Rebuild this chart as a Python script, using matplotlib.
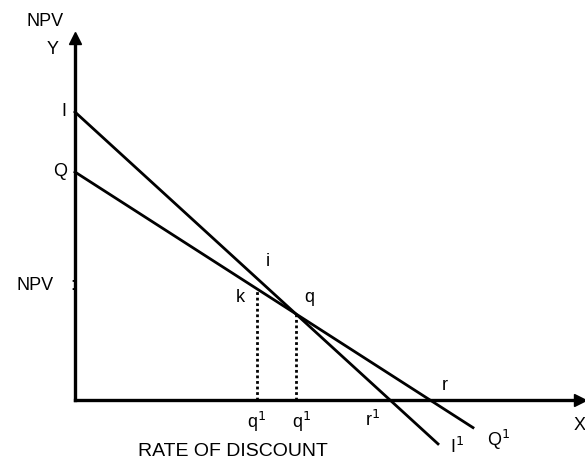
import numpy as np
import matplotlib
matplotlib.use("Agg")
import matplotlib.pyplot as plt

plt.rcParams['font.family'] = ['Liberation Sans', 'DejaVu Sans']

# NPV profiles of two projects: intercept on NPV axis and root on discount-rate axis
intercept_I = 288
root_I = 315
intercept_Q = 228
root_Q = 355
end_I = 363
end_Q = 398
k_rate = 182
x_max = 505
y_max = 362

slope_I = -intercept_I / root_I
slope_Q = -intercept_Q / root_Q
xq = (intercept_Q - intercept_I) / (slope_I - slope_Q)
yq = intercept_I + slope_I * xq
yk = intercept_Q + slope_Q * k_rate

fig = plt.figure(figsize=(5.85, 4.59), dpi=100)
ax = fig.add_axes([0, 0, 1, 1])
ax.set_xlim(-75, 510)
ax.set_ylim(-59, 400)
ax.axis('off')

# axes with arrow heads
ax.plot([0, x_max], [0, 0], color='black', lw=2.4)
ax.plot([0, 0], [0, y_max], color='black', lw=2.4)
ax.plot(x_max, 0, marker='>', color='black', ms=9)
ax.plot(0, y_max, marker='^', color='black', ms=9)

# the two NPV lines
xs = np.array([0, end_I])
ax.plot(xs, intercept_I + slope_I * xs, color='black', lw=2)
xs = np.array([0, end_Q])
ax.plot(xs, intercept_Q + slope_Q * xs, color='black', lw=2)

# dotted drops
ax.plot([k_rate, k_rate], [0, yk], color='black', lw=2, ls=(0, (1, 1)))
ax.plot([xq, xq], [0, yq], color='black', lw=2, ls=(0, (1, 1)))

fs = 13
ax.text(-30, 378, 'NPV', fontsize=fs, ha='center', va='center')
ax.text(-22, 350, 'Y', fontsize=fs, ha='center', va='center')
ax.text(-11, intercept_I, 'I', fontsize=fs, ha='center', va='center')
ax.text(-15, intercept_Q, 'Q', fontsize=fs, ha='center', va='center')
ax.text(-40, 115, 'NPV', fontsize=fs, ha='center', va='center')
ax.text(-2, 115, ':', fontsize=fs, ha='center', va='center')
ax.text(193, 138, 'i', fontsize=fs, ha='center', va='center')
ax.text(165, 103, 'k', fontsize=fs, ha='center', va='center')
ax.text(234, 102, 'q', fontsize=fs, ha='center', va='center')
ax.text(k_rate, -22, 'q$^1$', fontsize=fs, ha='center', va='center')
ax.text(xq + 6, -22, 'q$^1$', fontsize=fs, ha='center', va='center')
ax.text(298, -20, 'r$^1$', fontsize=fs, ha='center', va='center')
ax.text(370, 14, 'r', fontsize=fs, ha='center', va='center')
ax.text(505, -25, 'X', fontsize=fs, ha='center', va='center')
ax.text(382, -47, 'I$^1$', fontsize=fs, ha='center', va='center')
ax.text(424, -40, 'Q$^1$', fontsize=fs, ha='center', va='center')
ax.text(158, -52, 'RATE OF DISCOUNT', fontsize=14, ha='center', va='center')

fig.savefig('out.png', dpi=100)
